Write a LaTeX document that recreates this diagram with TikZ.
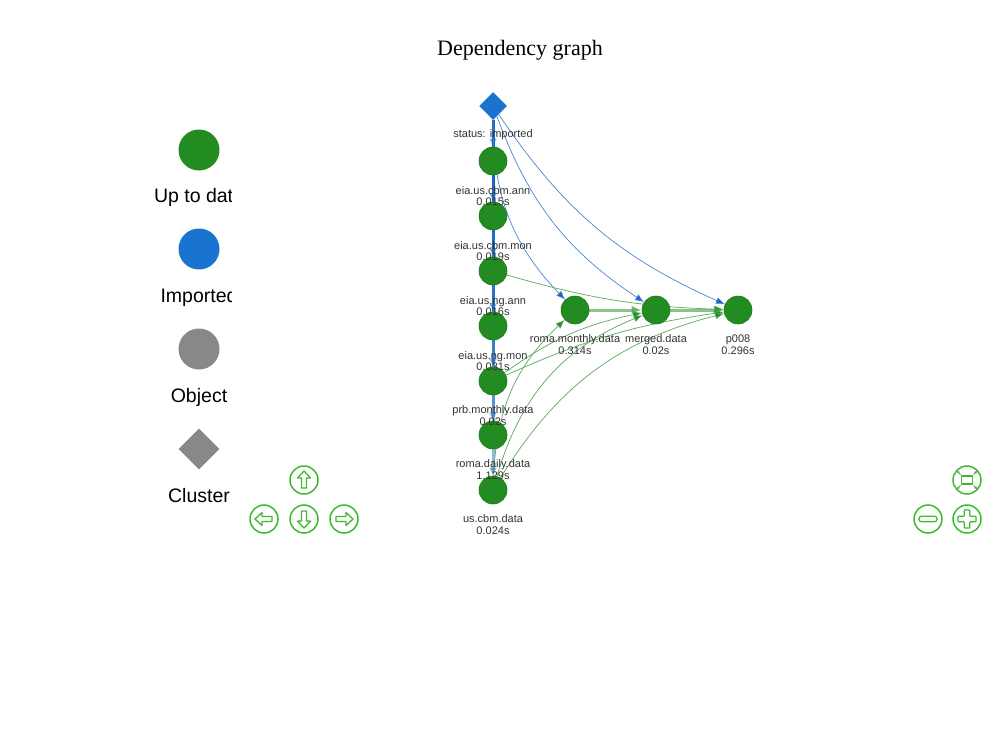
\documentclass[tikz,border=0pt]{standalone}
\usepackage{fontspec}
\setmainfont{Liberation Sans}
\newfontfamily\titlefont{Liberation Serif}
\usetikzlibrary{arrows.meta,shapes.geometric}
\definecolor{upgreen}{HTML}{228B22}
\definecolor{upgreenD}{HTML}{1C7A1C}
\definecolor{impblue}{HTML}{1A73CF}
\definecolor{objgray}{HTML}{888888}
\definecolor{btngreen}{HTML}{3CBB2C}
\definecolor{txt}{HTML}{333333}
\definecolor{edgeblue}{HTML}{1565C0}
\definecolor{thinblue}{HTML}{4A86D0}
\definecolor{thingreen}{HTML}{5AAA5A}
\definecolor{edgegreen}{HTML}{3E9B3E}
\pgfdeclarelayer{bg}
\pgfsetlayers{bg,main}
\tikzset{
  gnode/.style={circle, fill=upgreen, draw=upgreenD, line width=0.6pt, minimum size=28pt, inner sep=0pt},
  stnode/.style={diamond, fill=impblue, draw=edgeblue, line width=0.5pt, minimum width=27pt, minimum height=27pt, inner sep=0pt},
  lbl/.style={font=\fontsize{11}{11.5}\selectfont, text=txt, align=center, inner sep=0pt},
  legtxt/.style={font=\fontsize{19.5}{22}\selectfont, text=black, inner sep=0pt},
  vedge/.style={draw=edgeblue, line width=3pt, opacity=0.45, -{Latex[length=8pt,width=8pt]}},
  bedge/.style={draw=thinblue, line width=0.7pt, -{Latex[length=9pt,width=7pt,fill=edgeblue]}},
  gedge/.style={draw=thingreen, line width=0.7pt, -{Latex[length=9pt,width=7pt,fill=upgreen]}},
  tedge/.style={draw=edgegreen, line width=3pt, opacity=0.6, -{Latex[length=10pt,width=9pt]}},
  btn/.style={circle, draw=btngreen, line width=1.5pt, minimum size=28pt, inner sep=0pt},
  icon/.style={draw=btngreen, line width=1.3pt, line join=round},
  fiticon/.style={draw=gray, line width=0.8pt, -{Stealth[length=3pt,width=3pt]}}
}
\begin{document}
\begin{tikzpicture}[x=1pt,y=-1pt]
\useasboundingbox (0,0) rectangle (1000,744);

% title
\node[font=\titlefont\fontsize{22}{25}\selectfont, inner sep=0pt] (title) at (520,50) {Dependency graph};

% legend
\node[circle, fill=upgreen, minimum size=41pt, inner sep=0pt] (legup) at (199,150) {};
\node[circle, fill=impblue, minimum size=41pt, inner sep=0pt] (legimp) at (199,249) {};
\node[circle, fill=objgray, minimum size=41pt, inner sep=0pt] (legobj) at (199,349) {};
\node[diamond, fill=objgray, minimum width=41pt, minimum height=41pt, inner sep=0pt] (legclu) at (199,449) {};
\begin{scope}
\clip (100,0) rectangle (231.5,744);
\node[legtxt] (tup) at (199,197) {Up to date};
\node[legtxt] (timp) at (199,297) {Imported};
\node[legtxt] (tobj) at (199,397) {Object};
\node[legtxt] (tclu) at (199,496) {Cluster};
\end{scope}

% graph nodes
\node[stnode] (st) at (493,106) {};
\node[gnode] (n1) at (493,161) {};
\node[gnode] (n2) at (493,216) {};
\node[gnode] (n3) at (493,271) {};
\node[gnode] (n4) at (493,326) {};
\node[gnode] (n5) at (493,381) {};
\node[gnode] (n6) at (493,435) {};
\node[gnode] (n7) at (493,490) {};
\node[gnode] (rm) at (575,310) {};
\node[gnode] (md) at (656,310) {};
\node[gnode] (p8) at (738,310) {};

% labels
\node[lbl] (lst) at (493,135) {status: imported};
\node[lbl] (l1) at (493,196) {eia.us.cbm.ann\\0.015s};
\node[lbl] (l2) at (493,251) {eia.us.cbm.mon\\0.019s};
\node[lbl] (l3) at (493,306) {eia.us.ng.ann\\0.016s};
\node[lbl] (l4) at (493,361) {eia.us.ng.mon\\0.031s};
\node[lbl] (l5) at (493,415.5) {prb.monthly.data\\0.02s};
\node[lbl] (l6) at (493,469.5) {roma.daily.data\\1.129s};
\node[lbl] (l7) at (493,524.5) {us.cbm.data\\0.024s};
\node[lbl] (lrm) at (575,344.5) {roma.monthly.data\\0.314s};
\node[lbl] (lmd) at (656,344.5) {merged.data\\0.02s};
\node[lbl] (lp8) at (738,344.5) {p008\\0.296s};

% edges
\begin{pgfonlayer}{bg}
\fill[white] (0,0) rectangle (1000,744);
\foreach \n in {n1,n2,n3,n4,n5,n6,n7} \draw[vedge] (st) -- (\n);
\draw[bedge] (st) to[bend right=22] (rm);
\draw[bedge] (st) to[bend right=18] (md);
\draw[bedge] (st) to[bend right=16] (p8);
\draw[gedge] (n3) to[bend right=7] (p8);
\draw[gedge] (n5) to[bend left=12] (md);
\draw[gedge] (n5) to[bend left=8] (p8);
\draw[gedge] (n7) to[bend left=22] (rm);
\draw[gedge] (n7) to[bend left=26] (md);
\draw[gedge] (n7) to[bend left=22] (p8);
\draw[tedge] (rm) -- (md);
\draw[tedge] (md) -- (p8);
\end{pgfonlayer}

% navigation buttons
\node[btn] (bup) at (304,480) {};
\node[btn] (bleft) at (264,519) {};
\node[btn] (bdown) at (304,519) {};
\node[btn] (bright) at (344,519) {};
\node[btn] (bfit) at (967,480) {};
\node[btn] (bminus) at (928,519) {};
\node[btn] (bplus) at (967,519) {};

\draw[icon, shift={(bup.center)}] (0,-9) -- (6.5,-2) -- (2.5,-2) -- (2.5,8) -- (-2.5,8) -- (-2.5,-2) -- (-6.5,-2) -- cycle;
\draw[icon, shift={(bdown.center)}] (0,9) -- (6.5,2) -- (2.5,2) -- (2.5,-8) -- (-2.5,-8) -- (-2.5,2) -- (-6.5,2) -- cycle;
\draw[icon, shift={(bleft.center)}] (-9,0) -- (-2,-6.5) -- (-2,-2.5) -- (8,-2.5) -- (8,2.5) -- (-2,2.5) -- (-2,6.5) -- cycle;
\draw[icon, shift={(bright.center)}] (9,0) -- (2,-6.5) -- (2,-2.5) -- (-8,-2.5) -- (-8,2.5) -- (2,2.5) -- (2,6.5) -- cycle;
\draw[icon, shift={(bminus.center)}, rounded corners=2.5pt] (-9,-2.8) rectangle (9,2.8);
\draw[icon, shift={(bplus.center)}, rounded corners=0.6pt] (-2.8,-9) -- (2.8,-9) -- (2.8,-2.8) -- (9,-2.8) -- (9,2.8) -- (2.8,2.8) -- (2.8,9) -- (-2.8,9) -- (-2.8,2.8) -- (-9,2.8) -- (-9,-2.8) -- (-2.8,-2.8) -- cycle;
\draw[icon, shift={(bfit.center)}] (-5.5,-4) rectangle (5.5,4);
\begin{scope}[shift={(bfit.center)}]
\draw[fiticon] (-6.5,-5.5) -- (-10,-9);
\draw[fiticon] (6.5,-5.5) -- (10,-9);
\draw[fiticon] (-6.5,5.5) -- (-10,9);
\draw[fiticon] (6.5,5.5) -- (10,9);
\end{scope}
\end{tikzpicture}
\end{document}
